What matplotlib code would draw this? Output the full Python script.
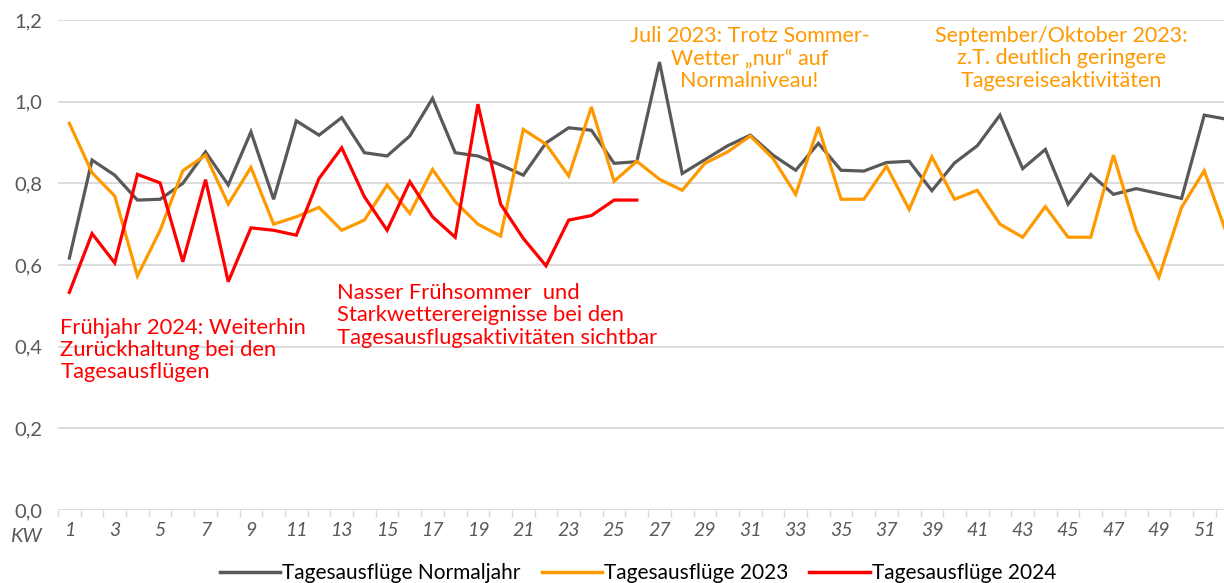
import numpy as np
import matplotlib.pyplot as plt
from matplotlib.lines import Line2D

kw = list(range(1, 53))

normaljahr = [0.617, 0.857, 0.820, 0.759, 0.761, 0.800, 0.877, 0.796, 0.926, 0.761,
              0.953, 0.918, 0.961, 0.875, 0.867, 0.916, 1.008, 0.875, 0.867, 0.845,
              0.820, 0.899, 0.936, 0.930, 0.849, 0.853, 1.097, 0.824, 0.858, 0.892,
              0.918, 0.869, 0.832, 0.898, 0.832, 0.830, 0.851, 0.854, 0.782, 0.850,
              0.892, 0.967, 0.836, 0.883, 0.749, 0.822, 0.773, 0.787, 0.775, 0.763,
              0.967, 0.957]

jahr2023 = [0.947, 0.826, 0.769, 0.573, 0.685, 0.831, 0.869, 0.749, 0.839, 0.700,
            0.718, 0.741, 0.685, 0.710, 0.796, 0.726, 0.834, 0.755, 0.700, 0.671,
            0.932, 0.896, 0.818, 0.987, 0.805, 0.854, 0.810, 0.783, 0.849, 0.877,
            0.916, 0.861, 0.773, 0.938, 0.761, 0.761, 0.842, 0.736, 0.865, 0.761,
            0.783, 0.700, 0.668, 0.743, 0.668, 0.668, 0.869, 0.685, 0.570, 0.741,
            0.831, 0.675]

jahr2024 = [0.533, 0.677, 0.605, 0.822, 0.801, 0.608, 0.809, 0.559, 0.691, 0.685,
            0.673, 0.812, 0.887, 0.767, 0.685, 0.804, 0.718, 0.668, 0.994, 0.749,
            0.665, 0.598, 0.710, 0.721, 0.759, 0.759]

y_ticks = [0.0, 0.2, 0.4, 0.6, 0.8, 1.0, 1.2]

GRAU = "#595959"
ORANGE = "#FF9900"
ROT = "#FF0000"

plt.rcParams['font.family'] = ['Lato', 'DejaVu Sans']

fig = plt.figure(figsize=(12.24, 5.83), dpi=100)
ax = fig.add_axes([58 / 1224, 1 - 510 / 583, 1 - 58 / 1224, 490 / 583])

ax.plot(kw, normaljahr, color=GRAU, lw=2.3, solid_joinstyle='miter', zorder=3)
ax.plot(kw, jahr2023, color=ORANGE, lw=2.3, solid_joinstyle='miter', zorder=4)
ax.plot(kw[:len(jahr2024)], jahr2024, color=ROT, lw=2.3, solid_joinstyle='miter', zorder=5)

ax.set_ylim(0, 1.2)
ax.set_xlim(0.5, 51.87)
ax.set_yticks(y_ticks)
ax.set_yticklabels([f"{v:.1f}".replace(".", ",") for v in y_ticks], color=GRAU, fontsize=14.5)
for v in y_ticks[1:]:
    ax.axhline(v, color="#d9d9d9", lw=1.3, zorder=1)
ax.axhline(0, color="#d9d9d9", lw=2, zorder=1)

ax.set_xticks(kw[::2])
ax.set_xticklabels([str(k) for k in kw[::2]], color=GRAU, fontsize=14, style='italic')
ax.set_xticks(np.arange(0.5, 52.5, 1), minor=True)
ax.tick_params(axis='x', which='major', length=0, pad=9)
ax.tick_params(axis='x', which='minor', length=5, color="#d9d9d9", width=1)
ax.tick_params(axis='y', length=0, pad=11)
for s in ax.spines.values():
    s.set_visible(False)

fig.text(10 / 1224, 1 - 537 / 583, "KW", color=GRAU, fontsize=14.5, style='italic',
         ha='left', va='center')

ax.text(0.6, 0.392, "Frühjahr 2024: Weiterhin\nZurückhaltung bei den\nTagesausflügen",
        color=ROT, fontsize=15.8, ha='left', va='center', linespacing=1.15)
ax.text(12.8, 0.477, "Nasser Frühsommer  und\nStarkwetterereignisse bei den\nTagesausflugsaktivitäten sichtbar",
        color=ROT, fontsize=15.8, ha='left', va='center', linespacing=1.15)
ax.text(30.96, 1.106, "Juli 2023: Trotz Sommer-\nWetter \u201enur\u201c auf\nNormalniveau!",
        color=ORANGE, fontsize=15.5, ha='center', va='center', linespacing=1.15)
ax.text(44.7, 1.106, "September/Oktober 2023:\nz.T. deutlich geringere\nTagesreiseaktivitäten",
        color=ORANGE, fontsize=15.5, ha='center', va='center', linespacing=1.15)

handles = [Line2D([], [], color=GRAU, lw=2.5),
           Line2D([], [], color=ORANGE, lw=2.5),
           Line2D([], [], color=ROT, lw=2.5)]
labels = ["Tagesausflüge Normaljahr", "Tagesausflüge 2023", "Tagesausflüge 2024"]
fig.legend(handles, labels, loc='center', bbox_to_anchor=(638 / 1224, 1 - 573 / 583),
           ncol=3, frameon=False, fontsize=15, handlelength=2.9, handletextpad=0.1,
           columnspacing=1.0)

fig.savefig("out.png", dpi=100)
